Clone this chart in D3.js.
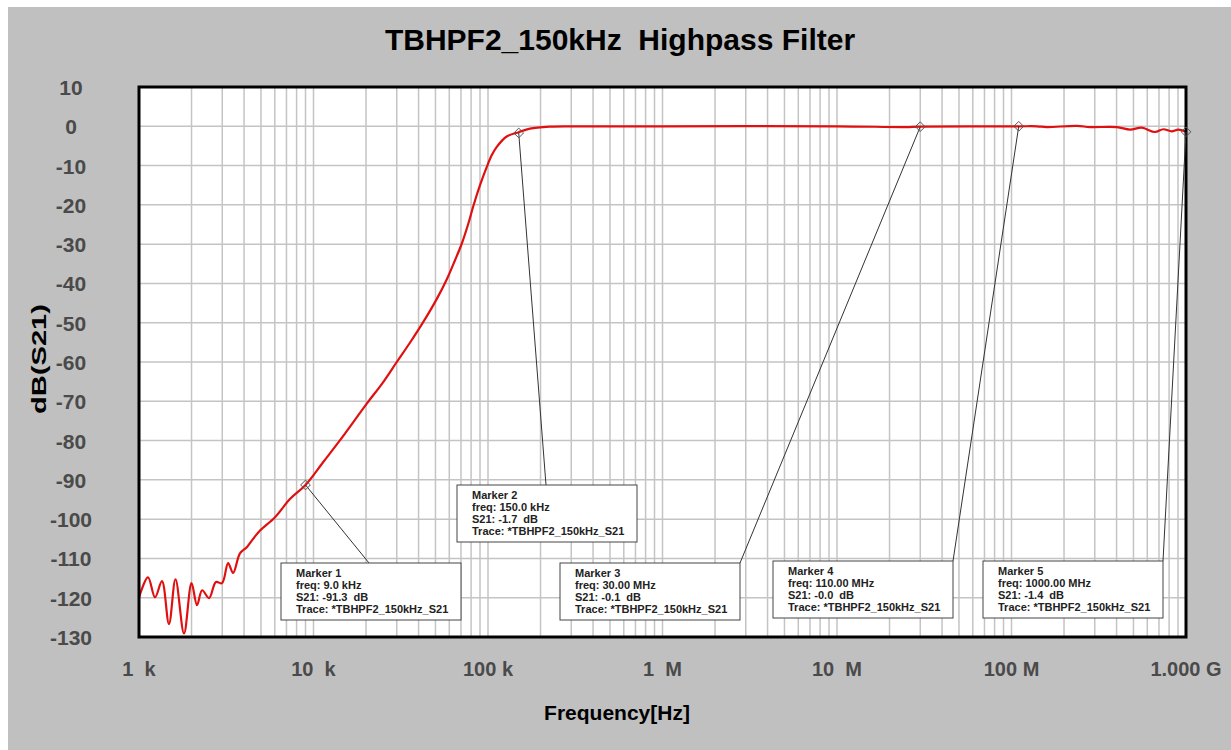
<!DOCTYPE html>
<html>
<head>
<meta charset="utf-8">
<script src="https://cdn.jsdelivr.net/npm/d3@7"></script>
<style>
  body { margin: 0; background: #fff; }
  svg { display: block; font-family: "Liberation Sans", Arial, sans-serif; }
</style>
</head>
<body>
<svg id="body" width="1231" height="750"></svg>
<script>
// S21 trace (Hz, dB)
let freqHz = [1000, 1126, 1235, 1354, 1485, 1619, 1811, 2000, 2150, 2300, 2520, 2760, 2990, 3240, 3460, 3790, 4160, 4440, 4940, 6020, 7330, 9000,
  11400, 14200, 20200, 25100, 30000, 35700, 42600, 50800, 58000, 64700, 70700, 77100, 82400, 90000, 98300, 105000, 112000, 128000, 150000, 174000, 226000, 300000,
  1e6, 1e7, 24.5e6, 30e6, 110e6, 140e6, 159e6, 237e6, 282e6, 401e6, 478e6, 557e6, 664e6, 741e6, 828e6, 903e6, 1e9]
let s21dB = [-119.9, -114.8, -119.9, -115.8, -126.7, -115.3, -129.1, -116.3, -121.9, -118.1, -120.1, -116.0, -116.3, -111.2, -113.7, -108.7, -107.1, -105.4, -102.9, -99.5, -94.9, -91.3,
  -85.4, -79.9, -70.6, -65.1, -60.0, -55.1, -49.8, -44.0, -39.0, -34.1, -29.9, -24.8, -20.3, -15.0, -10.4, -7.4, -5.3, -2.6, -1.5, -0.6, -0.1, 0.0,
  0.0, 0.0, -0.2, -0.1, 0.0, 0.0, -0.2, 0.1, -0.2, -0.2, -0.85, -0.35, -1.45, -0.75, -1.3, -0.85, -1.4]

// markers
let markerNames = ["Marker 1", "Marker 2", "Marker 3", "Marker 4", "Marker 5"]
let markerFreq = [9e3, 150e3, 30e6, 110e6, 1000e6]
let markerS21 = [-91.3, -1.7, -0.1, -0.0, -1.4]
let markerFreqText = ["9.0 kHz", "150.0 kHz", "30.00 MHz", "110.00 MHz", "1000.00 MHz"]
let markerS21Text = ["-91.3", "-1.7", "-0.1", "-0.0", "-1.4"]

// axis ticks
let yTicks = [10, 0, -10, -20, -30, -40, -50, -60, -70, -80, -90, -100, -110, -120, -130]
let xTickValues = [1e3, 1e4, 1e5, 1e6, 1e7, 1e8, 1e9]
let xTickLabels = ["1  k", "10  k", "100 k", "1  M", "10  M", "100 M", "1.000 G"]

let svg = d3.select("#body")

//background
svg.append("rect")
  .attr("x", 8).attr("y", 7)
  .attr("width", 1223).attr("height", 743)
  .attr("fill", "#c0c0c0")

let plot = {left: 139, right: 1186, top: 87, bottom: 637}

let xscale = d3.scaleLog()
  .domain([1e3, 1e9])
  .range([plot.left, plot.right])

let yscale = d3.scaleLinear()
  .domain([-130, 10])
  .range([plot.bottom, plot.top])

//plot area
svg.append("rect")
  .attr("x", plot.left).attr("y", plot.top)
  .attr("width", plot.right - plot.left)
  .attr("height", plot.bottom - plot.top)
  .attr("fill", "white")

//grid lines, 1..9 per decade
let gridX = []
for (let dec = 1e3; dec < 1e9; dec *= 10) {
  for (let m = 1; m < 10; m++) gridX.push(dec * m)
}

svg.append("g").selectAll("line")
  .data(gridX)
  .enter()
  .append("line")
  .attr("x1", d => xscale(d)).attr("x2", d => xscale(d))
  .attr("y1", plot.top).attr("y2", plot.bottom)
  .attr("stroke", "#c4c4c4")
  .attr("stroke-width", 1.5)

svg.append("g").selectAll("line")
  .data(yTicks)
  .enter()
  .append("line")
  .attr("x1", plot.left).attr("x2", plot.right)
  .attr("y1", d => yscale(d)).attr("y2", d => yscale(d))
  .attr("stroke", "#c4c4c4")
  .attr("stroke-width", 1.5)

//y tick labels
svg.append("g").selectAll("text")
  .data(yTicks)
  .enter()
  .append("text")
  .attr("x", 71)
  .attr("y", d => yscale(d) + 8)
  .attr("text-anchor", "middle")
  .style("font-size", "21px")
  .style("font-weight", "bold")
  .style("fill", "#4a4a4a")
  .text(d => d)

//x tick labels
svg.append("g").selectAll("text")
  .data(xTickValues)
  .enter()
  .append("text")
  .attr("x", d => xscale(d))
  .attr("y", 676)
  .attr("text-anchor", "middle")
  .style("font-size", "20px")
  .style("font-weight", "bold")
  .style("fill", "#4a4a4a")
  .style("white-space", "pre")
  .text((d, i) => xTickLabels[i])

//trace
let data = freqHz.map((f, i) => ({f: f, db: s21dB[i]}))

let valueLine = d3.line()
  .x(d => xscale(d.f))
  .y(d => yscale(d.db))
  .curve(d3.curveCatmullRom.alpha(0.5))

svg.append("path")
  .datum(data)
  .attr("d", valueLine)
  .attr("fill", "none")
  .attr("stroke", "#e01010")
  .attr("stroke-width", 2.2)

//frame
svg.append("rect")
  .attr("x", plot.left).attr("y", plot.top)
  .attr("width", plot.right - plot.left)
  .attr("height", plot.bottom - plot.top)
  .attr("fill", "none")
  .attr("stroke", "black")
  .attr("stroke-width", 3)

//marker boxes (box corner and where the leader line meets it)
let boxes = [
  {x: 281, y: 563, lx: 369},
  {x: 457, y: 485, lx: 546},
  {x: 560, y: 563, lx: 740},
  {x: 773, y: 561, lx: 953},
  {x: 983, y: 561, lx: 1163}
]

markerNames.forEach((name, i) => {
  let px = xscale(markerFreq[i])
  let py = yscale(markerS21[i])
  let b = boxes[i]

  svg.append("line")
    .attr("x1", px).attr("y1", py)
    .attr("x2", b.lx).attr("y2", b.y)
    .attr("stroke", "#333")
    .attr("stroke-width", 1)

  svg.append("path")
    .attr("d", d3.symbol(d3.symbolDiamond2, 60)())
    .attr("transform", "translate(" + px + "," + py + ")")
    .attr("fill", "none")
    .attr("stroke", "#555")
    .attr("stroke-width", 1)

  svg.append("rect")
    .attr("x", b.x).attr("y", b.y)
    .attr("width", 180).attr("height", 57)
    .attr("fill", "white")
    .attr("stroke", "#444")
    .attr("stroke-width", 1)

  let lines = [name, "freq: " + markerFreqText[i], "S21: " + markerS21Text[i] + "  dB", "Trace: *TBHPF2_150kHz_S21"]
  svg.append("g").selectAll("text")
    .data(lines)
    .enter()
    .append("text")
    .attr("x", b.x + 15)
    .attr("y", (d, j) => b.y + 14 + j * 12)
    .style("font-size", "11px")
    .style("font-weight", "bold")
    .style("fill", "#222")
    .style("white-space", "pre")
    .text(d => d)
})

//title
svg.append("text")
  .attr("x", 620)
  .attr("y", 50)
  .attr("text-anchor", "middle")
  .style("font-size", "30px")
  .style("font-weight", "bold")
  .style("white-space", "pre")
  .text("TBHPF2_150kHz  Highpass Filter")

//axis labels
svg.append("text")
  .attr("text-anchor", "middle")
  .attr("transform", "translate(617, 720)")
  .style("font-size", "21px")
  .style("font-weight", "bold")
  .text("Frequency[Hz]")

svg.append("text")
  .attr("text-anchor", "middle")
  .attr("transform", "translate(46, 359) rotate(-90)")
  .attr("textLength", 110)
  .attr("lengthAdjust", "spacingAndGlyphs")
  .style("font-size", "20px")
  .style("font-weight", "bold")
  .text("dB(S21)")
</script>
</body>
</html>
